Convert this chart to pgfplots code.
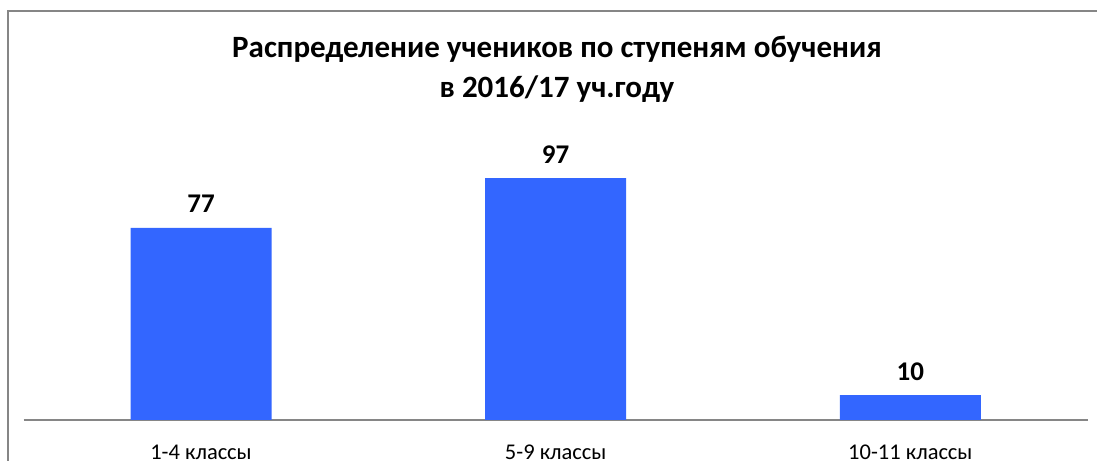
\documentclass[border=0pt]{standalone}
\usepackage{pgfplots}
\pgfplotsset{compat=1.18}
\usepackage{fontspec}
\setmainfont{Carlito}
\definecolor{barblue}{HTML}{3366FF}
\definecolor{framegray}{HTML}{868686}
\begin{document}
\begin{tikzpicture}[x=1bp,y=1bp]
\path[use as bounding box] (0,0) rectangle (1097,461);
\draw[framegray,line width=2.2bp] (8,-5) -- (8,450) -- (1100,450);
\node[font=\fontsize{31bp}{36bp}\selectfont\bfseries] at (557,412) {Распределение учеников по ступеням обучения};
\node[font=\fontsize{31bp}{36bp}\selectfont\bfseries] at (557,372) {в 2016/17 уч.году};
\begin{axis}[
  at={(201bp,41bp)}, anchor=origin,
  scale only axis, width=1064bp, height=249.4bp,
  xmin=-0.5, xmax=2.5, ymin=0, ymax=100,
  axis y line=none,
  axis x line*=bottom,
  x axis line style={framegray, line width=1.2bp, -},
  xtick=data,
  xticklabels={1-4 классы, 5-9 классы, 10-11 классы},
  major tick length=0pt,
  xticklabel style={font=\fontsize{22.5bp}{27bp}\selectfont, anchor=base, yshift=-40bp},
  ybar, bar width=141bp,
  clip=false,
  /pgf/number format/assume math mode=true,
  nodes near coords,
  every node near coord/.append style={font=\fontsize{27bp}{32bp}\selectfont\bfseries, black, anchor=base, yshift=15bp},
]
\addplot[fill=barblue, draw=none] coordinates {(0,77) (1,97) (2,10)};
\end{axis}
\end{tikzpicture}
\end{document}
